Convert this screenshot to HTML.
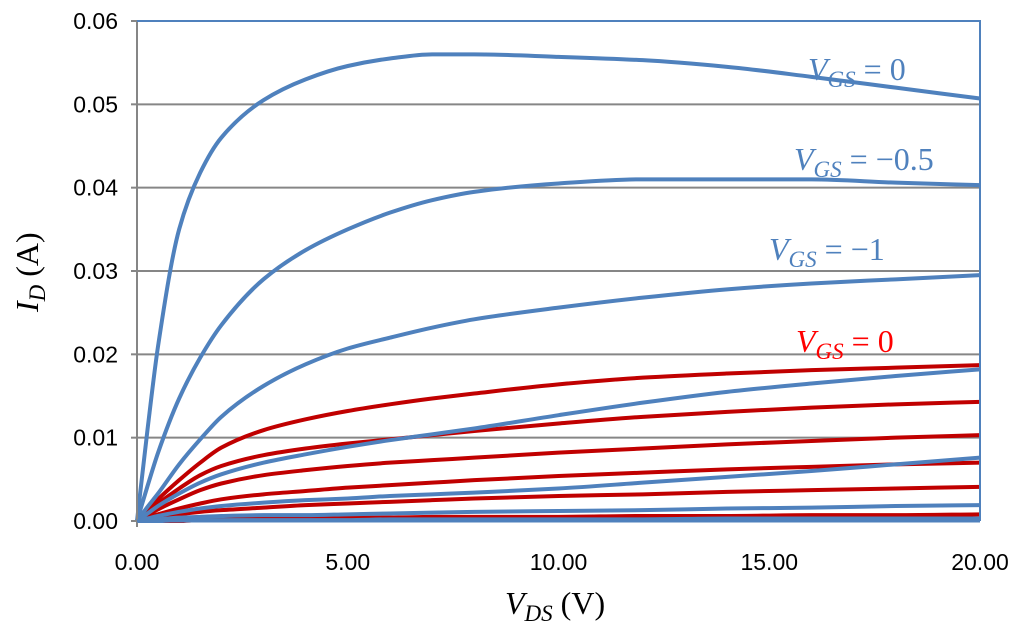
<!DOCTYPE html>
<html><head><meta charset="utf-8"><style>
html,body{margin:0;padding:0;background:#fff;}
svg{display:block;}
.tick{font-family:"Liberation Sans",sans-serif;font-size:23px;fill:#000;}
.lab{font-family:"Liberation Serif",serif;font-size:32px;}
</style></head><body>
<svg id="chart" width="1024" height="635" viewBox="0 0 1024 635" xmlns="http://www.w3.org/2000/svg">
<g id="grid"></g>
<g id="series"></g>
<g id="axes"></g>
<text class="lab" x="808" y="80" fill="#4F81BD"><tspan font-style="italic">V</tspan><tspan font-family="Liberation Serif" font-style="italic" font-size="23" dy="7">GS</tspan><tspan dy="-7"> = 0</tspan></text>
<text class="lab" x="794" y="170" fill="#4F81BD"><tspan font-style="italic">V</tspan><tspan font-family="Liberation Serif" font-style="italic" font-size="23" dy="7">GS</tspan><tspan dy="-7"> = −0.5</tspan></text>
<text class="lab" x="769" y="260" fill="#4F81BD"><tspan font-style="italic">V</tspan><tspan font-family="Liberation Serif" font-style="italic" font-size="23" dy="7">GS</tspan><tspan dy="-7"> = −1</tspan></text>
<text class="lab" x="796" y="352" fill="#FF0000"><tspan font-style="italic">V</tspan><tspan font-family="Liberation Serif" font-style="italic" font-size="23" dy="7">GS</tspan><tspan dy="-7"> = 0</tspan></text>
<text class="lab" x="505" y="614" fill="#000"><tspan font-style="italic">V</tspan><tspan font-family="Liberation Serif" font-style="italic" font-size="23" dy="7">DS</tspan><tspan dy="-7"> (V)</tspan></text>
<text class="lab" transform="translate(38,312) rotate(-90)" fill="#000"><tspan font-style="italic">I</tspan><tspan font-family="Liberation Serif" font-style="italic" font-size="23" dy="7">D</tspan><tspan dy="-7"> (A)</tspan></text>
</svg>
<script>
var xTicks=[0,5,10,15,20];
var xTickLabels=["0.00","5.00","10.00","15.00","20.00"];
var yTicks=[0,0.01,0.02,0.03,0.04,0.05,0.06];
var yTickLabels=["0.00","0.01","0.02","0.03","0.04","0.05","0.06"];
var vds=[0,0.25,0.5,1,1.5,2,3,4,5,6,7,8,10,12,14,16,18,20];
var blueVgs0=[0,0.011,0.021,0.035,0.0418,0.046,0.0505,0.053,0.0546,0.0555,0.056,0.056,0.0557,0.0553,0.0545,0.0533,0.052,0.0507];
var blueVgsM05=[0,0.0042,0.0082,0.0147,0.0196,0.0235,0.029,0.0325,0.035,0.037,0.0385,0.0395,0.0405,0.041,0.041,0.041,0.0406,0.0403];
var blueVgsM1=[0,0.0017,0.0033,0.0068,0.0098,0.0125,0.0162,0.0188,0.0207,0.022,0.0232,0.0242,0.0256,0.0268,0.0278,0.0285,0.029,0.0295];
var blueVgsM15=[0,0.0009,0.0018,0.0033,0.0046,0.0056,0.007,0.008,0.0089,0.0097,0.0104,0.0111,0.0127,0.0142,0.0155,0.0165,0.0174,0.0182];
var blueVgsM2=[0,0.0003,0.0006,0.0011,0.0015,0.0018,0.0022,0.0025,0.0027,0.003,0.0032,0.0034,0.0039,0.0046,0.0053,0.006,0.0068,0.0076];
var blueVgsM25=[0,0.0001,0.0002,0.0004,0.0005,0.0006,0.0007,0.0007,0.0008,0.0009,0.001,0.0011,0.0012,0.0013,0.0015,0.0016,0.0018,0.0019];
var blueVgsM3=[0,0,0,0.0001,0.0001,0.0001,0.0001,0.0001,0.0001,0.0002,0.0002,0.0002,0.0002,0.0002,0.0003,0.0003,0.0003,0.0003];
var redVgs0=[0,0.0013,0.0026,0.0049,0.007,0.0088,0.0109,0.0122,0.0132,0.014,0.0147,0.0153,0.0164,0.0172,0.0177,0.0181,0.0184,0.0187];
var redVgs2=[0,0.0011,0.0021,0.0039,0.0055,0.0066,0.0079,0.0087,0.0093,0.0098,0.0103,0.0108,0.0117,0.0125,0.0131,0.0136,0.014,0.0143];
var redVgs3=[0,0.0007,0.0014,0.0026,0.0037,0.0045,0.0055,0.0061,0.0066,0.007,0.0073,0.0076,0.0082,0.0087,0.0092,0.0096,0.01,0.0103];
var redVgs4=[0,0.0004,0.0008,0.0015,0.0021,0.0026,0.0032,0.0036,0.004,0.0043,0.0046,0.0049,0.0054,0.0058,0.0062,0.0065,0.0068,0.007];
var redVgs5=[0,0.0002,0.0004,0.0008,0.0011,0.0013,0.0016,0.0019,0.0021,0.0023,0.0025,0.0027,0.003,0.0032,0.0035,0.0037,0.0039,0.0041];
var redVgs6=[0,0.0001,0.0001,0.0002,0.0002,0.0003,0.0003,0.0004,0.0004,0.0004,0.0005,0.0005,0.0005,0.0006,0.0006,0.0007,0.0007,0.0008];
var redVgs7=[0,0,0,0,0.0001,0.0001,0.0001,0.0001,0.0001,0.0001,0.0001,0.0001,0.0002,0.0002,0.0002,0.0002,0.0002,0.0002];

var NS="http://www.w3.org/2000/svg";
var X0=137,X1=980,Y0=521,Y1=21;
function sx(v){return X0+(v-0)/(20-0)*(X1-X0);}
function sy(v){return Y0-(v-0)/(0.06-0)*(Y0-Y1);}
function mk(tag,attrs,parent){var e=document.createElementNS(NS,tag);for(var k in attrs)e.setAttribute(k,attrs[k]);parent.appendChild(e);return e;}
var grid=document.getElementById('grid'),axes=document.getElementById('axes'),ser=document.getElementById('series');
for(var i=1;i<yTicks.length;i++){
  var g=mk('line',{x1:X0,x2:X1,y1:sy(yTicks[i]),y2:sy(yTicks[i]),stroke:'#868686','stroke-width':2},grid);
  
  
}
for(var i=0;i<yTicks.length;i++){
  var t=mk('text',{x:118,y:sy(yTicks[i])+8,'text-anchor':'end','class':'tick'},axes);t.textContent=yTickLabels[i];
  
  
  var tk=mk('line',{x1:X0-6,x2:X0,y1:sy(yTicks[i]),y2:sy(yTicks[i]),stroke:'#868686','stroke-width':2},axes);
  
  
}
for(var i=0;i<xTicks.length;i++){
  var t=mk('text',{x:sx(xTicks[i]),y:570,'text-anchor':'middle','class':'tick'},axes);t.textContent=xTickLabels[i];
  
  
}
var ya=mk('line',{x1:X0,x2:X0,y1:Y1,y2:Y0+6,stroke:'#868686','stroke-width':2},axes);


var fr=mk('polyline',{points:X0+','+Y1+' '+X1+','+Y1+' '+X1+','+Y0,fill:'none',stroke:'#4F81BD','stroke-width':2},axes);


// monotone cubic (Fritsch-Carlson) in pixel space
function path(vals){
  var xs=vds.map(sx),ys=vals.map(sy),n=xs.length;
  var d=[],m=new Array(n);
  for(var i=0;i<n-1;i++)d.push((ys[i+1]-ys[i])/(xs[i+1]-xs[i]));
  m[0]=d[0];m[n-1]=d[n-2];
  for(var i=1;i<n-1;i++){
    if(d[i-1]*d[i]<=0)m[i]=0;
    else{var h0=xs[i]-xs[i-1],h1=xs[i+1]-xs[i],w1=2*h1+h0,w2=h1+2*h0;m[i]=(w1+w2)/(w1/d[i-1]+w2/d[i]);}
  }
  var s='M'+xs[0]+','+ys[0];
  for(var i=0;i<n-1;i++){
    var h=(xs[i+1]-xs[i])/3;
    s+=' C'+(xs[i]+h)+','+(ys[i]+m[i]*h)+' '+(xs[i+1]-h)+','+(ys[i+1]-m[i+1]*h)+' '+xs[i+1]+','+ys[i+1];
  }
  return s;
}
var reds=[redVgs0,redVgs2,redVgs3,redVgs4,redVgs5,redVgs6,redVgs7];
var blues=[blueVgs0,blueVgsM05,blueVgsM1,blueVgsM15,blueVgsM2,blueVgsM25,blueVgsM3];
reds.forEach(function(s,i){
  var e=mk('path',{d:path(s),fill:'none',stroke:'#C00000','stroke-width':4,'stroke-linejoin':'round'},ser);
  
  
});
blues.forEach(function(s,i){
  var e=mk('path',{d:path(s),fill:'none',stroke:'#4F81BD','stroke-width':4,'stroke-linejoin':'round'},ser);
  
  
});
var xa=mk('line',{x1:X0,x2:X1,y1:Y0,y2:Y0,stroke:'#4F81BD','stroke-width':3},axes);


</script>
</body></html>
